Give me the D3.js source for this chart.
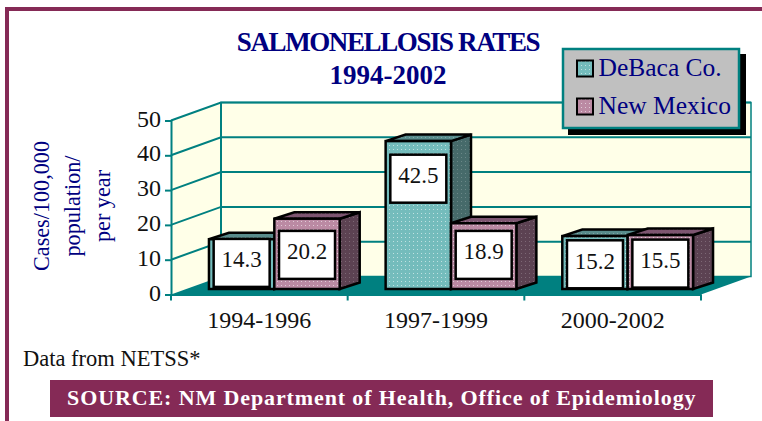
<!DOCTYPE html>
<html>
<head>
    <meta charset="utf-8">
    <title>Salmonellosis rates</title>
    <style>
        html, body { margin: 0; padding: 0; background: #fff; overflow: hidden; }
        text { font-family: "Liberation Serif", serif; }
    </style>
</head>
<body>
    <script src="https://d3js.org/d3.v7.min.js"></script>
    <script>
        var categories = ["1994-1996", "1997-1999", "2000-2002"];
        var seriesNames = ["DeBaca Co.", "New Mexico"];
        var debaca = [14.3, 42.5, 15.2];
        var newMexico = [20.2, 18.9, 15.5];
        var yTicks = [0, 10, 20, 30, 40, 50];
        var yTitle = ["Cases/100,000", "population/", "per year"];

        var width = 762, height = 421;
        var plum = "#852a56", teal = "#008080", navy = "#000080", wall = "#ffffe8";

        var svg = d3.select("body").append("svg").attr("width", width).attr("height", height).style("display", "block");
        var defs = svg.append("defs");

        // dotted fills for the bar faces
        function dots(id, base, op) {
            var p = defs.append("pattern").attr("id", id).attr("width", 4).attr("height", 4)
                .attr("patternUnits", "userSpaceOnUse");
            p.append("rect").attr("width", 4).attr("height", 4).attr("fill", base);
            p.append("rect").attr("x", 1).attr("y", 1).attr("width", 1).attr("height", 1).attr("fill", "#fff").attr("opacity", op);
        }
        dots("tealFront", "#74bcbc", 0.55);
        dots("tealTop", "#588c8c", 0.25);
        dots("tealSide", "#466a6a", 0.2);
        dots("pinkFront", "#bb8aa3", 0.55);
        dots("pinkTop", "#7d5570", 0.25);
        dots("pinkSide", "#5c4252", 0.2);

        // frame
        svg.append("path").attr("d", "M7,421V9H762").attr("fill", "none").attr("stroke", plum).attr("stroke-width", 4);

        // scales: front plane of the box, the back wall is the same thing shifted by depth
        var x = d3.scaleBand().domain(categories).range([171, 701]);
        var y = d3.scaleLinear().domain([0, 50]).range([294.5, 120.5]);
        var xBars = d3.scaleBand().domain(categories).range([171, 701]).paddingInner(0.26).paddingOuter(0.13);
        var xSeries = d3.scaleBand().domain(seriesNames).range([0, xBars.bandwidth()]);
        var depth = { x: 50, y: -18 }, barShift = { x: 15, y: -5.5 }, barDepth = { x: 20, y: -6.5 };

        var box = svg.append("g");
        box.append("rect").attr("x", 171 + depth.x).attr("y", y(50) + depth.y)
            .attr("width", 530).attr("height", y(0) - y(50)).attr("fill", wall).attr("stroke", teal).attr("stroke-width", 1.5);
        box.append("path")
            .attr("d", d3.line()([[171, y(0)], [171, y(50)], [171 + depth.x, y(50) + depth.y], [171 + depth.x, y(0) + depth.y]]) + "Z")
            .attr("fill", wall);
        box.selectAll(".grid").data(yTicks.slice(1)).enter().append("path").attr("class", "grid")
            .attr("d", d => d3.line()([[171, y(d)], [171 + depth.x, y(d) + depth.y], [701 + depth.x, y(d) + depth.y]]))
            .attr("fill", "none").attr("stroke", teal).attr("stroke-width", 2);
        box.append("line").attr("x1", 171 + depth.x).attr("x2", 171 + depth.x)
            .attr("y1", y(50) + depth.y).attr("y2", y(0) + depth.y).attr("stroke", teal).attr("stroke-width", 2);
        box.append("path")
            .attr("d", d3.line()([[171, y(0)], [171 + depth.x, y(0) + depth.y], [701 + depth.x, y(0) + depth.y], [701, y(0)]]) + "Z")
            .attr("fill", teal);

        // value axis
        var yAxis = svg.append("g").attr("transform", "translate(171,0)")
            .call(d3.axisLeft(y).tickValues(yTicks).tickSize(6).tickPadding(4).tickFormat(d3.format("d")));
        yAxis.selectAll("path,line").attr("stroke", teal).attr("stroke-width", 2);
        yAxis.selectAll("text").attr("font-size", 24).attr("fill", "#111").attr("dy", 5.5).style("font-family", "'Liberation Serif'");

        // category axis, labels from the axis and ticks on the band edges
        var xAxis = svg.append("g").attr("transform", "translate(0," + y(0) + ")")
            .call(d3.axisBottom(x).tickSize(0).tickPadding(16));
        xAxis.select("path").attr("stroke", teal).attr("stroke-width", 2);
        xAxis.selectAll("text").attr("font-size", 24).attr("fill", "#111").style("font-family", "'Liberation Serif'");
        xAxis.selectAll(".edge").data(categories.map(c => x(c)).concat(701)).enter().append("line").attr("class", "edge")
            .attr("x1", d => d).attr("x2", d => d).attr("y1", 0).attr("y2", 6).attr("stroke", teal).attr("stroke-width", 2);

        // bars
        var bars = [];
        categories.forEach(function (c, i) {
            bars.push({ cat: c, name: seriesNames[0], value: debaca[i], kind: "teal" });
            bars.push({ cat: c, name: seriesNames[1], value: newMexico[i], kind: "pink" });
        });
        var barY = v => y(v) + barShift.y;
        var barG = svg.append("g").selectAll("g").data(bars).enter().append("g")
            .attr("stroke", "#000").attr("stroke-width", 2.5).attr("stroke-linejoin", "miter");
        barG.each(function (d) {
            var g = d3.select(this);
            var x0 = xBars(d.cat) + xSeries(d.name) + barShift.x, x1 = x0 + xSeries.bandwidth();
            var t = barY(d.value), b = barY(0);
            g.append("path").attr("fill", "url(#" + d.kind + "Side)")
                .attr("d", d3.line()([[x1, t], [x1 + barDepth.x, t + barDepth.y], [x1 + barDepth.x, b + barDepth.y], [x1, b]]) + "Z");
            g.append("path").attr("fill", "url(#" + d.kind + "Top)")
                .attr("d", d3.line()([[x0, t], [x0 + barDepth.x, t + barDepth.y], [x1 + barDepth.x, t + barDepth.y], [x1, t]]) + "Z");
            g.append("rect").attr("x", x0).attr("y", t).attr("width", x1 - x0).attr("height", b - t)
                .attr("fill", "url(#" + d.kind + "Front)");
        });

        // value boxes: the label height inside each bar is read in data units
        var labelAt = { "14.3": 7.5, "20.2": 9.8, "42.5": 31.7, "18.9": 9.8, "15.2": 7.1, "15.5": 7.3 };
        var lab = svg.append("g").selectAll("g").data(bars).enter().append("g")
            .attr("transform", d => "translate(" + (xBars(d.cat) + xSeries(d.name) + barShift.x + xSeries.bandwidth() / 2) + "," + barY(labelAt[d.value]) + ")");
        lab.append("rect").attr("x", -28).attr("y", -24).attr("width", 56).attr("height", 48)
            .attr("fill", "#fff").attr("stroke", "#000").attr("stroke-width", 2.5);
        lab.append("text").text(d => d.value.toFixed(1)).attr("text-anchor", "middle").attr("y", 4.5)
            .attr("font-size", 23).attr("fill", "#111");

        // title
        var title = svg.append("g").attr("text-anchor", "middle").attr("fill", navy).attr("font-weight", "bold").attr("font-size", 27);
        title.append("text").text("SALMONELLOSIS RATES").attr("x", 388).attr("y", 51).attr("letter-spacing", -1.4);
        title.append("text").text("1994-2002").attr("x", 388).attr("y", 83.5);

        // y title
        svg.append("g").selectAll("text").data(yTitle).enter().append("text")
            .text(d => d).attr("text-anchor", "middle").attr("fill", navy).attr("font-size", 22.2)
            .attr("transform", (d, i) => "translate(" + (49 + i * 30.5) + ",206) rotate(-90)");

        // legend
        var legend = svg.append("g");
        legend.append("rect").attr("x", 568).attr("y", 54).attr("width", 178).attr("height", 81).attr("fill", "#000");
        legend.append("rect").attr("x", 563).attr("y", 49).attr("width", 176).attr("height", 79)
            .attr("fill", "#c0c0c0").attr("stroke", teal).attr("stroke-width", 2.5);
        var li = legend.selectAll(".li").data(seriesNames).enter().append("g").attr("class", "li")
            .attr("transform", (d, i) => "translate(0," + (i * 38) + ")");
        li.append("rect").attr("x", 577).attr("y", 60.5).attr("width", 16).attr("height", 16)
            .attr("fill", (d, i) => i ? "url(#pinkFront)" : "url(#tealFront)").attr("stroke", "#000").attr("stroke-width", 2);
        li.append("text").text(d => d).attr("x", 598.5).attr("y", 76).attr("fill", navy).attr("font-size", 25.5);

        // footer
        svg.append("text").text("Data from NETSS*").attr("x", 23).attr("y", 366).attr("font-size", 22.5).attr("fill", "#111");
        svg.append("rect").attr("x", 50).attr("y", 380).attr("width", 663).attr("height", 37).attr("fill", plum);
        svg.append("text").text("SOURCE: NM Department of Health, Office of Epidemiology")
            .attr("x", 67).attr("y", 405).attr("font-size", 22).attr("font-weight", "bold").attr("fill", "#fff")
            .attr("letter-spacing", 0.89);
    </script>
</body>
</html>
